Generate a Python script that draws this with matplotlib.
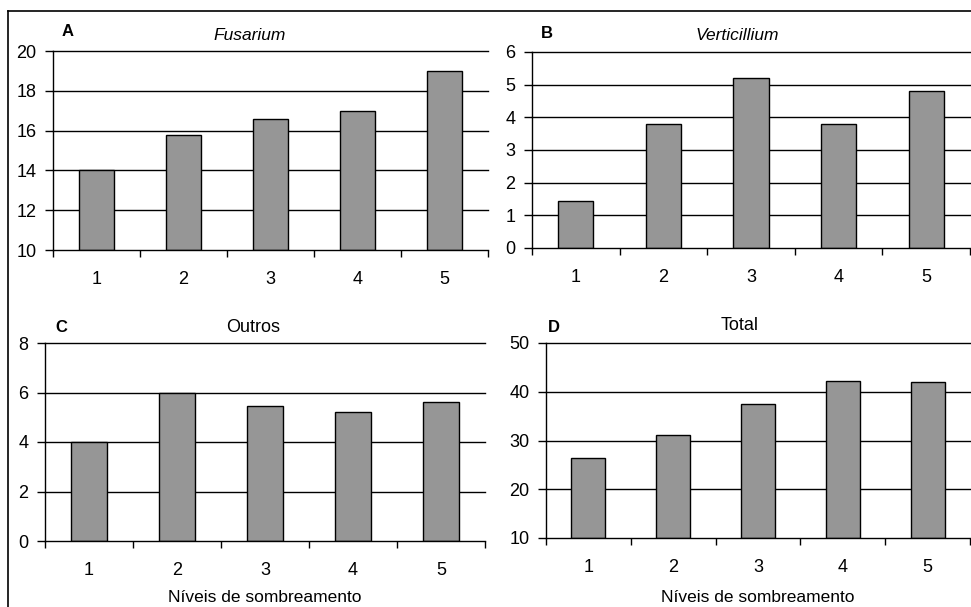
import matplotlib
matplotlib.use("Agg")
import numpy as np
import matplotlib.pyplot as plt
from matplotlib.lines import Line2D

plt.rcParams['font.family'] = ['Liberation Sans', 'DejaVu Sans']

niveis = [1, 2, 3, 4, 5]
fusarium = [14.0, 15.8, 16.6, 17.0, 19.0]
verticillium = [1.45, 3.8, 5.2, 3.8, 4.8]
outros = [4.0, 6.0, 5.45, 5.22, 5.63]
total = [26.4, 31.1, 37.4, 42.2, 41.9]

W, H = 971, 607
fig = plt.figure(figsize=(W / 100, H / 100), dpi=100)

def px(x, y):
    return x / W, 1 - y / H

# letter, title, italic, values, ylim, step, axes box (l, t, r, b) px, xlabel, title pos px, letter pos px
panels = [
    ('A', 'Fusarium', True, fusarium, (10, 20), 2, (53, 51, 488, 250), False, (250, 35), (62, 32)),
    ('B', 'Verticillium', True, verticillium, (0, 6), 1, (532, 52, 970, 248), False, (737, 35), (541, 33)),
    ('C', 'Outros', False, outros, (0, 8), 2, (45, 343, 485, 541), True, (253, 328), (55, 328)),
    ('D', 'Total', False, total, (10, 50), 10, (546, 343, 970, 538), True, (740, 326), (548, 328)),
]

for letter, title, italic, vals, ylim, step, box, xlab, tpos, lpos in panels:
    l, t, r, b = box
    ax = fig.add_axes([l / W, 1 - b / H, (r - l) / W, (b - t) / H])
    x = np.arange(len(niveis))
    ax.bar(x, np.array(vals) - ylim[0], bottom=ylim[0], width=0.4,
           color='#969696', edgecolor='black', linewidth=1.0, zorder=3)
    ax.set_xlim(-0.5, len(niveis) - 0.5)
    ax.set_ylim(*ylim)
    yt = np.arange(ylim[0], ylim[1] + step / 2, step)
    ax.set_yticks(yt)
    ax.set_yticklabels([str(int(v)) for v in yt])
    for v in yt[1:]:
        ax.axhline(v, color='black', linewidth=1.0, zorder=1, clip_on=False)
    # category labels as minor ticks, boundary tick marks as major
    ax.set_xticks(np.arange(-0.5, len(niveis)))
    ax.set_xticklabels([])
    ax.set_xticks(x, minor=True)
    ax.set_xticklabels([str(n) for n in niveis], minor=True)
    ax.tick_params(axis='x', which='minor', length=0, pad=15, labelsize=13)
    ax.tick_params(axis='x', which='major', length=5, width=1, direction='out')
    ax.tick_params(axis='y', length=6, width=1, direction='out', labelsize=13, pad=6)
    for s in ['top', 'right']:
        ax.spines[s].set_visible(False)
    for s in ['left', 'bottom']:
        ax.spines[s].set_linewidth(1.0)
        ax.spines[s].set_zorder(4)
    fig.text(*px(*tpos), title, fontsize=12.5 if italic else 13,
             style='italic' if italic else 'normal', ha='center', va='center')
    fig.text(*px(*lpos), letter, fontsize=12, fontweight='bold', ha='left', va='center')
    if xlab:
        fig.text(*px((l + r) / 2, 597), 'Níveis de sombreamento', fontsize=12.5,
                 ha='center', va='center')

# outer border (top and left edges)
fig.add_artist(Line2D([8 / W, 1], [1 - 11 / H, 1 - 11 / H], color='black', linewidth=1.2,
                      transform=fig.transFigure))
fig.add_artist(Line2D([8 / W, 8 / W], [0, 1 - 11 / H], color='black', linewidth=1.2,
                      transform=fig.transFigure))

plt.savefig("out.png", dpi=100)
